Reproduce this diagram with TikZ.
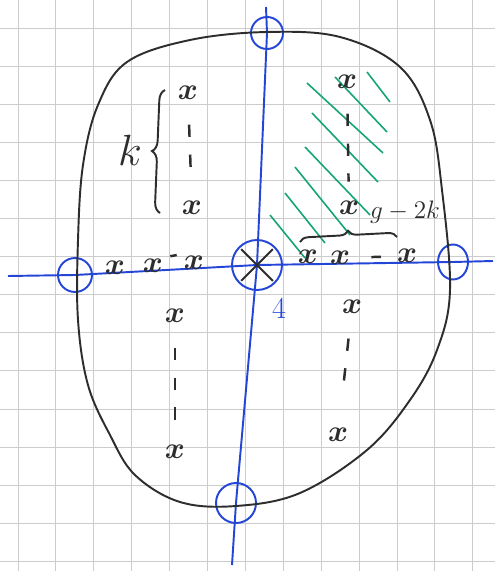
\documentclass[tikz,border=0pt]{standalone}
\usepackage{amsmath,amssymb}
\usepackage{xcolor}
\usepackage{tikz}
\usetikzlibrary{positioning,decorations.pathreplacing,shapes.geometric}

\definecolor{penblue}{RGB}{35,70,215}
\definecolor{pengreen}{RGB}{20,165,115}
\definecolor{penblack}{RGB}{45,45,45}

\begin{document}
\begin{tikzpicture}[
  x=0.02cm, y=-0.02cm,
  gridline/.style={gray!40, line width=0.5pt},
  axis/.style={penblue, line width=1.1pt},
  ring/.style={circle, draw=penblue, line width=1.1pt, inner sep=0pt},
  xmark/.style={font=\LARGE\boldmath, text=penblack, inner sep=1pt},
  outline/.style={penblack, line width=1.1pt},
  hatch/.style={pengreen, line width=0.9pt},
  dots/.style={penblack, line width=1.4pt, dash pattern=on 7pt off 10pt, shorten <=13pt, shorten >=10pt},
  onedash/.style={penblack, line width=1.4pt},
  curly/.style={penblack, line width=1.1pt, decorate, decoration={brace, amplitude=6pt}}
]
\useasboundingbox (0,0) rectangle (495,571);
\fill[white] (0,0) rectangle (495,571);

% squared paper
\foreach \i in {0,...,12}
  \draw[gridline] (18+37.9*\i,0) -- (18+37.9*\i,571);
\foreach \j in {0,...,14}
  \draw[gridline] (0,28+38.1*\j) -- (495,28+38.1*\j);

% hatched region
\draw[hatch] (367,72) -- (390,102);
\draw[hatch] (335,77) -- (387,132);
\draw[hatch] (307,83) -- (383,153);
\draw[hatch] (312,113) -- (378,182);
\draw[hatch] (305,147) -- (370,215);
\draw[hatch] (295,167) -- (350,235);
\draw[hatch] (285,193) -- (325,243);
\draw[hatch] (270,215) -- (305,258);

% circles on the axes
\node[ring, minimum size=0.64cm] (top) at (267,33) {};
\node[ring, minimum size=0.68cm] (lft) at (75,275) {};
\node[ring, ellipse, minimum width=0.6cm, minimum height=0.7cm] (rgt) at (453,262) {};
\node[ring, minimum size=1.0cm] (o) at (257,265) {};
\node[ring, minimum size=0.8cm] (bot) at (236,503) {};

\coordinate (vtop) at (266,7);
\coordinate (vbot) at (232,565);
\coordinate (hleft) at (8,276);
\coordinate (hright) at (493,261);

% axes
\draw[axis] (vtop) -- (top.center) -- (o.center) -- (bot.center) -- (vbot);
\draw[axis] (hleft) -- (lft.center) -- (o.center) -- (rgt.center) -- (hright);
\node[text=penblue, font=\LARGE] (four) at (279,308) {4};

% star in the centre
\draw[penblack, line width=1.2pt, shorten <=2pt, shorten >=2pt] (o.north east) -- (o.south west);
\draw[penblack, line width=1.2pt, shorten <=2pt, shorten >=2pt] (o.north west) -- (o.south east);

% the closed curve
\draw[outline] plot[smooth cycle, tension=0.6] coordinates {
  (267,32) (340,37) (400,67) (430,120) (442,190) (450,290)
  (437,350) (410,400) (367,450) (300,493) (236,506) (180,502)
  (135,475) (110,435) (88,385) (78,320) (78,240) (83,165)
  (98,105) (127,62) (190,40)};

% marks, upper left
\node[xmark] (ul1) at (188,93) {$x$};
\node[xmark] (ul2) at (192,208) {$x$};
\draw[dots] (ul1) -- (ul2);
\draw[curly] (160,213) -- (165,90);
\node[font=\fontsize{30}{32}\selectfont, text=penblack] (k) at (130,150) {$k$};

% marks, upper right
\node[xmark] (ur1) at (347,82) {$x$};
\node[xmark] (ur2) at (349,208) {$x$};
\draw[dots] (ur1) -- (ur2);

% marks on the horizontal axis
\node[xmark] (hl1) at (115,268) {$x$};
\node[xmark] (hl2) at (153,266) {$x$};
\node[xmark] (hl3) at (194,263) {$x$};
\draw[onedash, shorten <=3pt, shorten >=3pt] (hl2.north east) -- (hl3.north west);
\node[xmark] (hr1) at (308,257) {$x$};
\node[xmark] (hr2) at (340,258) {$x$};
\node[xmark] (hr3) at (407,256) {$x$};
\draw[onedash, shorten <=11pt, shorten >=8pt] (hr2) -- (hr3);
\draw[curly, decoration={brace, amplitude=5pt}] (300,242) -- (397,237);
\node[font=\Large, text=penblack] (gk) at (405,212) {$g-2k$};

% marks, lower left
\node[xmark] (ll1) at (175,316) {$x$};
\node[xmark] (ll2) at (175,452) {$x$};
\draw[dots] (ll1) -- (ll2);

% marks, lower right
\node[xmark] (lr1) at (352,307) {$x$};
\node[xmark] (lr2) at (338,435) {$x$};
\draw[dots, shorten >=22pt] (lr1) -- (lr2);
\end{tikzpicture}
\end{document}
